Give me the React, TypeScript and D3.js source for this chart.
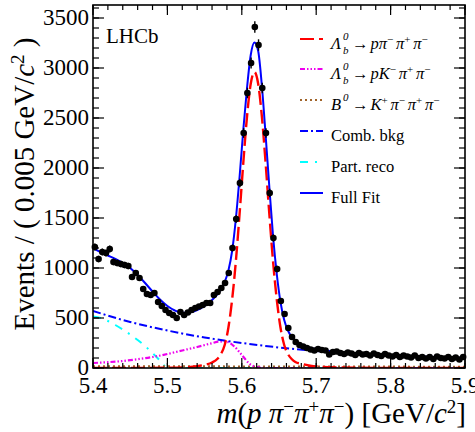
import React from "react";
import * as d3 from "d3";

// Histogram: 100 bins of 5 MeV between 5.4 and 5.9 GeV
const binLo = 5.4;
const binW = 0.005;
const counts = [
  1210, 1090, 1160, 1150, 1190, 1060, 1050, 1040, 1030, 1020,
  910, 950, 900, 790, 740, 730, 750, 660, 620, 580,
  550, 530, 500, 560, 530, 555, 580, 600, 615, 630,
  650, 650, 730, 760, 800, 850, 950, 1200, 1490, 1850,
  2350, 2750, 3050, 3410, 3230, 2800, 2350, 1750, 1300, 990,
  670, 540, 400, 310, 260, 230, 215, 200, 185, 175,
  190, 180, 175, 135, 160, 165, 150, 140, 155, 145,
  130, 150, 135, 140, 125, 145, 130, 120, 140, 125,
  115, 130, 110, 125, 115, 105, 125, 100, 110, 95,
  110, 90, 115, 100, 95, 110, 90, 105, 85, 110,
];

// Fit components (mass in GeV, yield per bin)
const sigM = [5.4, 5.45, 5.5, 5.52, 5.54, 5.55, 5.56, 5.567, 5.572, 5.577, 5.582, 5.587, 5.592, 5.597, 5.602, 5.607, 5.612, 5.617, 5.622, 5.627, 5.632, 5.637, 5.642, 5.647, 5.652, 5.657, 5.662, 5.667, 5.672, 5.68, 5.69, 5.7, 5.72, 5.75, 5.8, 5.9];
const sigV = [0, 1, 3, 6, 18, 32, 55, 90, 140, 230, 405, 685, 1067, 1540, 2050, 2514, 2842, 2960, 2842, 2514, 2050, 1540, 1067, 685, 405, 230, 140, 90, 60, 42, 25, 16, 8, 3, 1, 0];

const pkM = [5.4, 5.42, 5.44, 5.46, 5.48, 5.5, 5.52, 5.54, 5.56, 5.57, 5.58, 5.59, 5.6, 5.61, 5.62, 5.63, 5.9];
const pkV = [50, 58, 70, 88, 110, 140, 175, 210, 248, 265, 262, 215, 130, 45, 8, 0, 0];

const b0M = [5.4, 5.5, 5.6, 5.7, 5.8, 5.9];
const b0V = [18, 17, 16, 15, 14, 13];

const combM = [5.4, 5.45, 5.5, 5.55, 5.6, 5.65, 5.7, 5.75, 5.8, 5.85, 5.9];
const combV = [570, 460, 375, 305, 250, 205, 170, 145, 125, 110, 97];

const prM = [5.4, 5.41, 5.42, 5.43, 5.44, 5.45, 5.46, 5.47, 5.48, 5.49, 5.5, 5.9];
const prV = [515, 500, 470, 430, 385, 335, 280, 220, 150, 75, 0, 0];

const fitM = [5.4, 5.41, 5.42, 5.43, 5.44, 5.45, 5.46, 5.47, 5.48, 5.49, 5.5, 5.51, 5.52, 5.53, 5.54, 5.55, 5.56, 5.567, 5.572, 5.577, 5.582, 5.587, 5.592, 5.597, 5.602, 5.607, 5.612, 5.617, 5.622, 5.627, 5.632, 5.637, 5.642, 5.647, 5.652, 5.657, 5.662, 5.667, 5.672, 5.68, 5.69, 5.7, 5.72, 5.75, 5.8, 5.85, 5.9];
const fitV = [1200, 1160, 1125, 1090, 1050, 1000, 930, 850, 765, 685, 620, 575, 552, 555, 578, 620, 680, 735, 790, 860, 975, 1170, 1490, 1910, 2380, 2800, 3130, 3255, 3170, 2820, 2330, 1810, 1320, 940, 660, 480, 375, 310, 272, 235, 205, 188, 168, 148, 128, 112, 100];

const FONT = "'Liberation Serif', 'Times New Roman', serif";

const x = d3.scaleLinear().domain([5.4, 5.9]).range([93, 465]);
const y = d3.scaleLinear().domain([0, 3630]).range([368, 5]);

const line = d3
  .line<[number, number]>()
  .x((d) => x(d[0]))
  .y((d) => y(d[1]))
  .curve(d3.curveMonotoneX);

const path = (ms: number[], vs: number[]) => line(ms.map((m, i) => [m, vs[i]]) as [number, number][]) || "";

// line styles for the components
const styles = {
  sig: { stroke: "#ff0000", dash: "14,5" },
  pk: { stroke: "#ee00ee", dash: "5,2,1.5,2,1.5,2,1.5,2" },
  b0: { stroke: "#a0642a", dash: "2,3" },
  comb: { stroke: "#0000ff", dash: "8,3,2,3" },
  pr: { stroke: "#00ffff", dash: "8,7,2,7" },
  fit: { stroke: "#0000ff", dash: "" },
};

function Pis({ charges }: { charges: string[] }) {
  return (
    <>
      {charges.map((c, i) => (
        <React.Fragment key={i}>
          <tspan fontStyle="italic">π</tspan>
          <tspan dy={-6} fontSize={11}>{c}</tspan>
          <tspan dy={6} fontSize={11}>{" "}</tspan>
        </React.Fragment>
      ))}
    </>
  );
}

export default function App() {
  const xMajor = x.ticks(5);
  const xMinor = x.ticks(25);
  const yMajor = y.ticks(7);
  const yMinor = d3.range(0, 3630, 100);

  const legendRows = [
    { key: "sig", yy: 44 },
    { key: "pk", yy: 74 },
    { key: "b0", yy: 105 },
    { key: "comb", yy: 136 },
    { key: "pr", yy: 167 },
    { key: "fit", yy: 198 },
  ] as const;

  const centers = counts.map((_, i) => binLo + (i + 0.5) * binW);

  return (
    <svg width={475} height={432} style={{ position: "absolute", left: 0, top: 0, background: "#fff" }} fontFamily={FONT}>
      <defs>
        <clipPath id="plot">
          <rect x={93} y={5} width={372} height={363} />
        </clipPath>
      </defs>

      {/* fit components */}
      <g clipPath="url(#plot)" fill="none">
        <path d={path(prM, prV)} stroke={styles.pr.stroke} strokeWidth={2} strokeDasharray={styles.pr.dash} />
        <path d={path(b0M, b0V)} stroke={styles.b0.stroke} strokeWidth={2} strokeDasharray={styles.b0.dash} />
        <path d={path(pkM, pkV)} stroke={styles.pk.stroke} strokeWidth={2.2} strokeDasharray={styles.pk.dash} />
        <path d={path(combM, combV)} stroke={styles.comb.stroke} strokeWidth={2} strokeDasharray={styles.comb.dash} />
        <path d={path(sigM, sigV)} stroke={styles.sig.stroke} strokeWidth={2.4} strokeDasharray={styles.sig.dash} />
        <path d={path(fitM, fitV)} stroke={styles.fit.stroke} strokeWidth={2} />
      </g>

      {/* data with Poisson errors */}
      <g fill="#000" stroke="#000">
        {counts.map((n, i) => (
          <g key={i}>
            <line x1={x(centers[i])} x2={x(centers[i])} y1={y(n - Math.sqrt(n))} y2={y(n + Math.sqrt(n))} strokeWidth={1.4} />
            <circle cx={x(centers[i])} cy={y(n)} r={3.3} stroke="none" />
          </g>
        ))}
      </g>

      {/* frame and ticks */}
      <g stroke="#000" strokeWidth={1.2}>
        {xMinor.map((t) => (
          <g key={"xm" + t}>
            <line x1={x(t)} x2={x(t)} y1={368} y2={363} />
            <line x1={x(t)} x2={x(t)} y1={5} y2={10} />
          </g>
        ))}
        {xMajor.map((t) => (
          <g key={"xM" + t}>
            <line x1={x(t)} x2={x(t)} y1={368} y2={358} />
            <line x1={x(t)} x2={x(t)} y1={5} y2={15} />
          </g>
        ))}
        {yMinor.map((t) => (
          <g key={"ym" + t}>
            <line x1={93} x2={99} y1={y(t)} y2={y(t)} />
            <line x1={465} x2={459} y1={y(t)} y2={y(t)} />
          </g>
        ))}
        {yMajor.map((t) => (
          <g key={"yM" + t}>
            <line x1={93} x2={104} y1={y(t)} y2={y(t)} />
            <line x1={465} x2={454} y1={y(t)} y2={y(t)} />
          </g>
        ))}
        <rect x={93} y={5} width={372} height={363} fill="none" strokeWidth={1.6} />
      </g>

      {/* tick labels */}
      <g fontSize={23} fill="#000">
        {xMajor.map((t) => (
          <text key={"xl" + t} x={x(t)} y={393} textAnchor="middle">
            {d3.format(".1f")(t)}
          </text>
        ))}
        {yMajor.map((t) => (
          <text key={"yl" + t} x={89} y={y(t) + 7} textAnchor="end">
            {t}
          </text>
        ))}
      </g>

      {/* axis titles */}
      <text x={466} y={423} textAnchor="end" fontSize={29}>
        <tspan fontStyle="italic">m</tspan>(<tspan fontStyle="italic">p</tspan>{" "}
        <tspan fontStyle="italic">π</tspan>
        <tspan dy={-10} fontSize={19}>−</tspan>
        <tspan dy={10} fontStyle="italic">π</tspan>
        <tspan dy={-10} fontSize={19}>+</tspan>
        <tspan dy={10} fontStyle="italic">π</tspan>
        <tspan dy={-10} fontSize={19}>−</tspan>
        <tspan dy={10}>) [GeV/</tspan>
        <tspan fontStyle="italic">c</tspan>
        <tspan dy={-10} fontSize={19}>2</tspan>
        <tspan dy={10}>]</tspan>
      </text>
      <text transform="translate(34,184) rotate(-90)" textAnchor="middle" fontSize={29}>
        Events / ( 0.005 GeV/<tspan fontStyle="italic">c</tspan>
        <tspan dy={-10} fontSize={19}>2</tspan>
        <tspan dy={10}> )</tspan>
      </text>

      <text x={106} y={43} fontSize={21}>LHCb</text>

      {/* legend */}
      <g>
        {legendRows.map((r) => {
          const s = styles[r.key];
          return (
            <line key={r.key} x1={300} x2={323} y1={r.yy - 5} y2={r.yy - 5} stroke={s.stroke} strokeWidth={2} strokeDasharray={s.dash} />
          );
        })}
        <g fontSize={16.5}>
          {/* Lambda_b -> p pi pi pi */}
          <text x={331} y={49} fontStyle="italic">Λ</text>
          <text x={343} y={40} fontSize={11} fontStyle="italic">0</text>
          <text x={343} y={54} fontSize={11} fontStyle="italic">b</text>
          <text x={352} y={49}>
            →<tspan fontStyle="italic" dx={2}>p</tspan>
            <Pis charges={["−", "+", "−"]} />
          </text>
          {/* Lambda_b -> p K pi pi */}
          <text x={331} y={79} fontStyle="italic">Λ</text>
          <text x={343} y={70} fontSize={11} fontStyle="italic">0</text>
          <text x={343} y={84} fontSize={11} fontStyle="italic">b</text>
          <text x={352} y={79}>
            →<tspan fontStyle="italic" dx={2}>pK</tspan>
            <tspan dy={-6} fontSize={11}>−</tspan>
            <tspan dy={6} fontSize={11}>{" "}</tspan>
            <Pis charges={["+", "−"]} />
          </text>
          {/* B0 -> K pi pi pi */}
          <text x={331} y={110} fontStyle="italic">B</text>
          <text x={343} y={101} fontSize={11} fontStyle="italic">0</text>
          <text x={352} y={110}>
            →<tspan fontStyle="italic" dx={2}>K</tspan>
            <tspan dy={-6} fontSize={11}>+</tspan>
            <tspan dy={6} fontSize={11}>{" "}</tspan>
            <Pis charges={["−", "+", "−"]} />
          </text>
          <text x={331} y={141}>Comb. bkg</text>
          <text x={331} y={172}>Part. reco</text>
          <text x={331} y={203}>Full Fit</text>
        </g>
      </g>
    </svg>
  );
}
